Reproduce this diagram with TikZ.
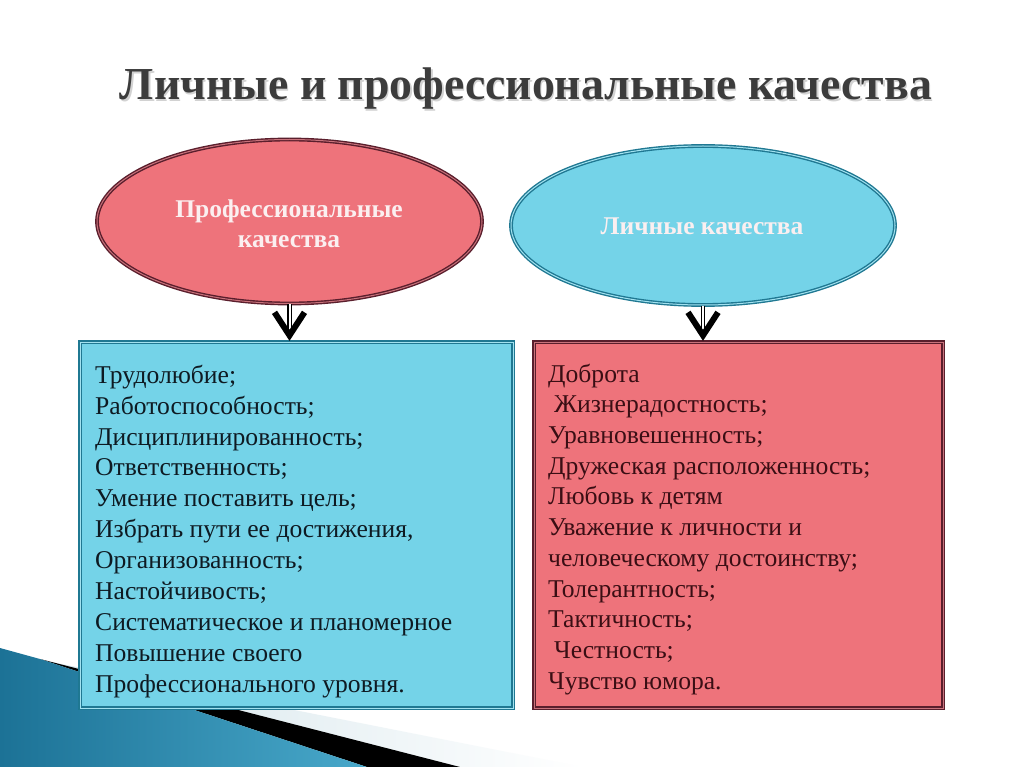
\documentclass[tikz,border=0pt]{standalone}
\usepackage{fontspec}
\setmainfont{Liberation Serif}
\usetikzlibrary{shapes.geometric,calc,shadows}
\definecolor{pinkfill}{HTML}{EE737B}
\definecolor{pinkline}{HTML}{5A1E2C}
\definecolor{pinkgap}{HTML}{C8727B}
\definecolor{cyanfill}{HTML}{74D3E8}
\definecolor{cyanline}{HTML}{1F7892}
\definecolor{cyangap}{HTML}{A2E2F0}
\definecolor{titlegray}{HTML}{3C3C3C}
\definecolor{lefttext}{HTML}{0E1A22}
\definecolor{righttext}{HTML}{3A0E14}
\definecolor{elltext}{HTML}{FBEFF0}
\definecolor{bluedark}{HTML}{1C7296}
\definecolor{bluelight}{HTML}{48A8CA}
\definecolor{paleband}{HTML}{D3E4EA}
\begin{document}
\begin{tikzpicture}[x=1pt,y=-1pt,
  ell/.style={ellipse, inner sep=0pt, line width=1.4pt, double distance=1pt},
  boxnode/.style={rectangle, inner sep=0pt, line width=1.3pt, double distance=1pt,
    drop shadow={shadow xshift=1.5pt, shadow yshift=-2pt, opacity=0.3}},
  boxtext/.style={anchor=north west, inner sep=0pt, align=left},
  elltextstyle/.style={inner sep=0pt, align=center, text=elltext, font=\bfseries\fontsize{25.5}{30}\selectfont},
  shaft/.style={draw=black, line width=1.1pt, double=white, double distance=2pt},
  headstyle/.style={draw=black, line width=6pt, line join=miter},
  titletext/.style={anchor=base, inner sep=0pt, font=\bfseries\fontsize{46}{50}\selectfont}
]
\useasboundingbox (0,0) rectangle (1024,767);
\fill[white] (0,0) rectangle (1024,767);

% bottom-left decoration
\shade[left color=paleband, right color=white] (51,662) -- (583,767) -- (455,767) -- cycle;
\fill[black] (40,659) -- (460,767) -- (367,767) -- cycle;
\shade[left color=bluedark, right color=bluelight] (0,648) -- (40,659) -- (367,767) -- (0,767) -- cycle;

% title
\node[titletext, text=gray!35] (titleshadow) at (527.5,101.5) {\resizebox{812pt}{!}{Личные и профессиональные качества}};
\node[titletext, text=titlegray] (title) at (526,100) {\resizebox{812pt}{!}{Личные и профессиональные качества}};

% ellipses
\node[ell, fill=pinkfill, draw=pinkline, double=pinkgap, minimum width=385pt, minimum height=164pt] (e1) at (289.5,221.5) {};
\node[ell, fill=cyanfill, draw=cyanline, double=cyangap, minimum width=384pt, minimum height=159pt] (e2) at (703,225.5) {};
\node[elltextstyle, anchor=north] (t1) at (289,196) {\strut Профессиональные\\качества};
\node[elltextstyle, anchor=base] (t2) at (702,235) {Личные качества};

% boxes
\node[boxnode, fill=cyanfill, draw=cyanline, double=cyangap, minimum width=433pt, minimum height=366pt] (b1) at (296.5,525) {};
\node[boxnode, fill=pinkfill, draw=pinkline, double=pinkgap, minimum width=409pt, minimum height=366pt] (b2) at (738.5,525) {};

\node[boxtext, text=lefttext, font=\fontsize{25.6}{30.9}\selectfont] (l1) at (95,361.4) {\strut Трудолюбие;\\
Работоспособность;\\
Дисциплинированность;\\
Ответственность;\\
Умение поставить цель;\\
Избрать пути ее достижения,\\
Организованность;\\
Настойчивость;\\
Систематическое и планомерное\\
Повышение своего\\
Профессионального уровня.};

\node[boxtext, text=righttext, font=\fontsize{25.6}{30.7}\selectfont] (r1) at (548,360.5) {\strut Доброта\\
\hspace*{6pt}Жизнерадостность;\\
Уравновешенность;\\
Дружеская расположенность;\\
Любовь к детям\\
Уважение к личности и\\
человеческому достоинству;\\
Толерантность;\\
Тактичность;\\
\hspace*{6pt}Честность;\\
Чувство юмора.};

% arrows
\coordinate (a1) at (e1.south |- b1.north);
\coordinate (a2) at (e2.south |- b2.north);
\draw[shaft] (e1.south) -- ($(a1)+(0,-6)$);
\draw[headstyle] ($(a1)+(-15,-29)$) -- ($(a1)+(0,-6)$) -- ($(a1)+(15,-29)$);
\draw[shaft] (e2.south) -- ($(a2)+(0,-6)$);
\draw[headstyle] ($(a2)+(-15,-29)$) -- ($(a2)+(0,-6)$) -- ($(a2)+(15,-29)$);
\end{tikzpicture}
\end{document}
